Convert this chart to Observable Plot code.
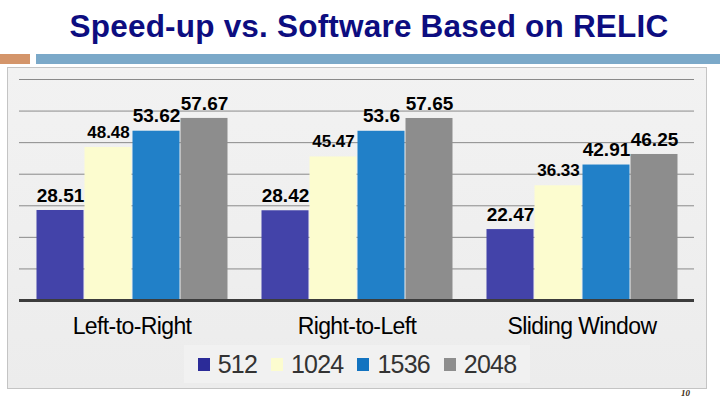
<!DOCTYPE html>
<html>
<head>
<meta charset="utf-8">
<script src="https://cdn.jsdelivr.net/npm/d3@7"></script>
<script src="https://cdn.jsdelivr.net/npm/@observablehq/plot@0.6"></script>
<style>
  html, body { margin: 0; padding: 0; background: #ffffff; }
  body { width: 720px; height: 405px; position: relative; overflow: hidden; font-family: "Liberation Sans", Arial, sans-serif; }
  #title { position: absolute; left: 0; top: 6px; width: 738px; text-align: center; font-size: 31.5px; font-weight: bold; color: #0d0d80; line-height: 40px; letter-spacing: 0.2px; }
  #orange { position: absolute; left: 0; top: 54px; width: 30px; height: 10px; background: #d4956a; }
  #blue { position: absolute; left: 36px; top: 54px; width: 684px; height: 10px; background: #7ba9c9; }
  #panel { position: absolute; left: 7px; top: 67px; width: 698px; height: 320px; border: 1px solid #c4c4c4; background: linear-gradient(180deg, #f2f2f2 0%, #ececec 100%); }
  #chart { position: absolute; left: 0; top: 67px; }
  #legend { position: absolute; left: 184px; top: 345px; width: 346px; height: 38px; background: #f1f1f1; display: flex; align-items: center; justify-content: center; font-size: 25px; color: #333333; }
  .item { display: flex; align-items: center; margin: 0 7px; }
  .sw { width: 12px; height: 13px; margin-right: 8px; }
  .lab { display: inline-block; letter-spacing: -0.8px; line-height: 38px; }
  #page { position: absolute; left: 681px; top: 388px; font-family: "Liberation Serif", serif; font-style: italic; font-weight: bold; font-size: 9px; color: #3a2a10; }
</style>
</head>
<body>
<div id="title">Speed-up vs. Software Based on RELIC</div>
<div id="orange"></div>
<div id="blue"></div>
<div id="panel"></div>
<div id="chart"></div>
<div id="legend"></div>
<div id="page">10</div>
<script>
const methods = ["Left-to-Right", "Right-to-Left", "Sliding Window"];
const sizes = ["512", "1024", "1536", "2048"];
const v512 = [28.51, 28.42, 22.47];
const v1024 = [48.48, 45.47, 36.33];
const v1536 = [53.62, 53.6, 42.91];
const v2048 = [57.67, 57.65, 46.25];
const yTicks = [10, 20, 30, 40, 50, 60, 70];
const barColors = ["#4343a9", "#fcfccf", "#2180c8", "#8d8d8d"];
const legendColors = ["#2b2b98", "#fcfccf", "#1273c0", "#8d8d8d"];

const series = [v512, v1024, v1536, v2048];
const data = [];
methods.forEach((m, i) => {
  sizes.forEach((s, j) => {
    data.push({method: m, size: s, value: series[j][i]});
  });
});

const big = data.filter(d => d.size !== "1024");
const small = data.filter(d => d.size === "1024");

const chart = Plot.plot({
  width: 720,
  height: 283,
  marginLeft: 19,
  marginRight: 26,
  marginTop: 12,
  marginBottom: 50,
  style: {background: "transparent", fontFamily: "Liberation Sans, Arial, sans-serif", overflow: "visible"},
  fx: {domain: methods, padding: 0, axis: "bottom", label: null, tickSize: 0, tickPadding: 17},
  x: {domain: sizes, paddingInner: 0, paddingOuter: 0.333, axis: null},
  y: {domain: [0, 70], axis: null},
  color: {domain: sizes, range: barColors},
  marks: [
    Plot.ruleY(yTicks, {stroke: "#8a8a8a", strokeWidth: 1}),
    Plot.barY(data, {fx: "method", x: "size", y: "value", fill: "size", insetLeft: 0.5, insetRight: 0.5}),
    Plot.ruleY([0], {stroke: "#3c3c3c", strokeWidth: 3}),
    Plot.text(big, {fx: "method", x: "size", y: "value", text: d => String(d.value), dy: -15, fontSize: 19, fontWeight: "bold", fill: "#000"}),
    Plot.text(small, {fx: "method", x: "size", y: "value", text: d => String(d.value), dy: -15, fontSize: 17, fontWeight: "bold", fill: "#000"})
  ]
});
chart.querySelectorAll("g[aria-label^='fx-axis']").forEach(g => {
  g.setAttribute("font-size", "23");
  g.setAttribute("fill", "#000");
  g.querySelectorAll("text").forEach(t => { t.setAttribute("font-size", "23"); t.setAttribute("fill", "#000"); t.setAttribute("letter-spacing", "-0.6"); });
});
document.getElementById("chart").appendChild(chart);

const legend = document.getElementById("legend");
sizes.forEach((s, i) => {
  const item = document.createElement("div");
  item.className = "item";
  const sw = document.createElement("div");
  sw.className = "sw";
  sw.style.background = legendColors[i];
  const lab = document.createElement("span");
  lab.className = "lab";
  lab.textContent = s;
  item.appendChild(sw);
  item.appendChild(lab);
  legend.appendChild(item);
});
</script>
</body>
</html>
